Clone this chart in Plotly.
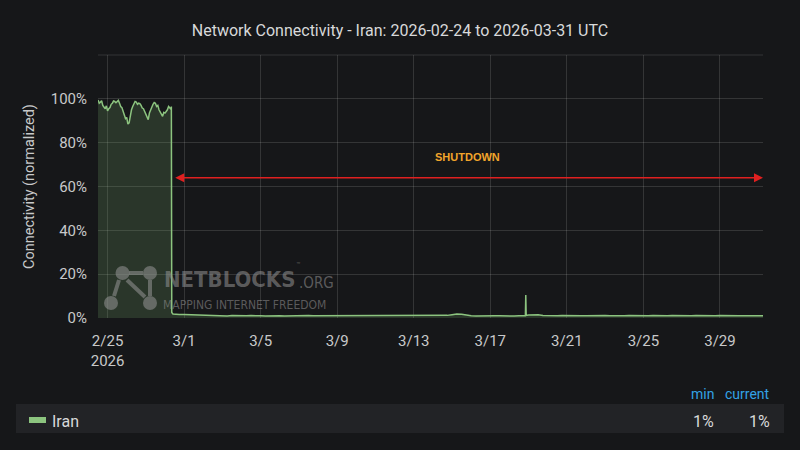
"""
Network connectivity chart for Iran, Feb-Mar 2026 (Grafana dark style)
"""

import pandas as pd
import plotly.graph_objects as go

# --- data -------------------------------------------------------------
# before the shutdown: 90-minute samples from 2026-02-24 12:00
pre_start = "2026-02-24 12:00"
pre_values = [
    99.5, 98.0, 98.5, 99.2, 97.0, 96.0, 95.5, 96.8, 94.5, 95.5, 96.0, 97.5, 98.0, 99.0, 98.8, 98.2,
    99.0, 99.3, 98.0, 96.5, 96.0, 94.0, 93.0, 91.0, 91.5, 88.5, 89.0, 93.0, 95.0, 96.5, 97.5, 98.8,
    98.5, 97.5, 98.0, 97.8, 97.0, 95.8, 95.5, 94.0, 93.0, 91.5, 90.5, 93.5, 95.0, 96.8, 97.5, 98.3,
    98.0, 96.5, 97.0, 95.0, 94.0, 92.5, 92.0, 93.8, 93.5, 94.2, 95.0, 96.5, 96.0, 95.2,
]

# the drop itself
drop_times = ["2026-02-28 08:00", "2026-02-28 08:30", "2026-02-28 10:00"]
drop_values = [96.5, 2.5, 1.8]

# after the shutdown: 6-hourly samples from 2026-02-28 12:00
post_start = "2026-02-28 12:00"
post_values = [
    1.7, 1.6,
    1.6, 1.5, 1.7, 1.6,   # 3/1
    1.4, 1.1, 1.0, 1.2,
    1.0, 0.9, 1.1, 1.0,
    0.9, 1.0, 1.1, 0.9,
    1.0, 0.9, 1.0, 1.1,   # 3/5
    1.0, 0.9, 1.0, 1.0,
    0.9, 1.0, 1.1, 1.0,
    1.0, 0.9, 1.0, 1.1,
    1.0, 1.0, 0.9, 1.0,   # 3/9
    1.1, 1.0, 0.9, 1.0,
    1.0, 1.1, 1.0, 0.9,
    1.0, 1.0, 1.1, 1.0,
    0.9, 1.0, 1.0, 1.1,   # 3/13
    1.0, 1.1, 1.0, 1.2,
    1.5, 1.8, 1.7, 1.2,
    1.0, 0.9, 1.0, 1.0,
    0.9, 1.0, 1.0, 0.9,   # 3/17
    1.0, 0.9, 1.0, 1.0,
    1.4, 1.6, 1.5, 1.1,
    1.0, 0.9, 1.0, 1.1,
    1.0, 0.9, 1.1, 1.0,   # 3/21
    1.0, 1.1, 0.9, 1.0,
    1.1, 1.0, 0.9, 1.0,
    1.0, 1.1, 1.0, 0.9,
    1.0, 1.0, 1.1, 1.0,   # 3/25
    0.9, 1.0, 1.1, 1.0,
    1.0, 0.9, 1.0, 1.1,
    1.0, 1.0, 0.9, 1.0,
    1.1, 1.0, 1.0, 0.9,   # 3/29
    1.0, 1.0, 1.1, 1.0,
    1.0, 1.0,
]

# short-lived spike on 3/18
spike_times = ["2026-03-18 20:00", "2026-03-18 20:30", "2026-03-18 21:00"]
spike_values = [1.0, 10.5, 1.2]

tick_dates = ["2026-02-25", "2026-03-01", "2026-03-05", "2026-03-09", "2026-03-13",
              "2026-03-17", "2026-03-21", "2026-03-25", "2026-03-29"]
tick_text = ["2/25<br>2026", "3/1", "3/5", "3/9", "3/13", "3/17", "3/21", "3/25", "3/29"]
y_ticks = [0, 20, 40, 60, 80, 100]
y_tick_text = ["0%", "20%", "40%", "60%", "80%", "100%"]

series = pd.concat([
    pd.Series(pre_values, index=pd.date_range(pre_start, periods=len(pre_values), freq="90min")),
    pd.Series(drop_values, index=pd.to_datetime(drop_times)),
    pd.Series(post_values, index=pd.date_range(post_start, periods=len(post_values), freq="6h")),
    pd.Series(spike_values, index=pd.to_datetime(spike_times)),
]).sort_index()

# --- style ------------------------------------------------------------
BG = "#161719"
GRID = "rgba(255,255,255,0.13)"
TEXT = "#c8c9ca"
GREEN = "#8cc47f"
MARK = "rgba(150,150,150,0.55)"

L, R, T, B = 98, 37, 55, 132
PW, PH = 800 - L - R, 450 - T - B


def px(x):
    return (x - L) / PW


def py(y):
    return (450 - B - y) / PH


fig = go.Figure(go.Scatter(
    x=series.index,
    y=series.values,
    mode="lines",
    line=dict(color=GREEN, width=1.5),
    fill="tozeroy",
    fillcolor="rgba(126,178,109,0.2)",
    showlegend=False,
    hoverinfo="skip",
))

# shutdown arrow + label
fig.add_annotation(
    x="2026-03-31 06:00", y=64, ax="2026-02-28 11:00", ay=64,
    xref="x", yref="y", axref="x", ayref="y",
    text="", showarrow=True, arrowside="end+start",
    arrowhead=2, arrowsize=1.2, arrowwidth=1.5, arrowcolor="#e02020",
)
fig.add_annotation(
    x="2026-03-15 20:00", y=73.5, xref="x", yref="y", text="<b>SHUTDOWN</b>",
    showarrow=False, font=dict(color="#f2a52b", size=11, family="Liberation Sans"),
)

# watermark logo
shapes = [dict(type="line", xref="paper", yref="paper", x0=0, x1=1, y0=1, y1=1,
               line=dict(color=GRID, width=1))]
for cx, cy in [(122.5, 273), (150, 273), (111, 303), (150, 303)]:
    shapes.append(dict(type="circle", xref="paper", yref="paper",
                       x0=px(cx - 7), x1=px(cx + 7), y0=py(cy + 7), y1=py(cy - 7),
                       fillcolor=MARK, line=dict(width=0)))
for x0, y0, x1, y1 in [(129, 273, 143, 273), (119, 280, 114, 296),
                       (127, 280, 145, 297), (150, 280, 150, 296)]:
    shapes.append(dict(type="line", xref="paper", yref="paper",
                       x0=px(x0), y0=py(y0), x1=px(x1), y1=py(y1),
                       line=dict(color=MARK, width=4)))

# legend row (Grafana style table)
shapes.append(dict(type="rect", xref="paper", yref="paper",
                   x0=px(16), x1=px(784), y0=py(433), y1=py(404),
                   fillcolor="#222326", line=dict(width=0), layer="below"))
shapes.append(dict(type="rect", xref="paper", yref="paper",
                   x0=px(29), x1=px(46), y0=py(423), y1=py(417),
                   fillcolor=GREEN, line=dict(width=0)))
fig.update_layout(shapes=shapes)

cond = "DejaVu Sans Condensed, Liberation Sans Narrow, Roboto"
texts = [
    (162, 279, "<b>NETBLOCKS</b>", 22, cond, MARK, "left"),
    (294, 265, "™", 7, "Roboto", MARK, "left"),
    (297, 283, ".ORG", 15, cond, MARK, "left"),
    (161, 305, "MAPPING INTERNET FREEDOM", 12, cond, MARK, "left"),
    (50, 421, "Iran", 16, "Roboto", "#d8d9da", "left"),
    (716, 394, "min", 14, "Roboto", "#33a2e5", "right"),
    (772, 394, "current", 14, "Roboto", "#33a2e5", "right"),
    (716, 421, "1%", 16, "Roboto", "#d8d9da", "right"),
    (772, 421, "1%", 16, "Roboto", "#d8d9da", "right"),
]
for x, y, t, size, fam, col, anchor in texts:
    fig.add_annotation(x=px(x), y=py(y), xref="paper", yref="paper", text=t,
                       showarrow=False, xanchor=anchor, yanchor="middle",
                       font=dict(size=size, family=fam, color=col))

fig.update_layout(
    width=800,
    height=450,
    paper_bgcolor=BG,
    plot_bgcolor=BG,
    font=dict(family="Roboto", color=TEXT, size=14),
    title=dict(text="Network Connectivity - Iran: 2026-02-24 to 2026-03-31 UTC",
               x=0.5, xanchor="center", y=1 - 30 / 450, yanchor="middle",
               font=dict(size=16, color="#d8d9da")),
    margin=dict(l=L, r=R, t=T, b=B),
    xaxis=dict(
        range=["2026-02-24 12:00", "2026-03-31 06:00"],
        tickvals=tick_dates, ticktext=tick_text,
        showgrid=True, gridcolor=GRID, zeroline=False,
        ticks="", ticklabelstandoff=12, tickfont=dict(size=15, color=TEXT),
    ),
    yaxis=dict(
        range=[0, 120],
        tickvals=y_ticks, ticktext=y_tick_text,
        showgrid=True, gridcolor=GRID, zeroline=False,
        ticks="", ticklabelstandoff=10, tickfont=dict(size=15, color=TEXT),
        title=dict(text="Connectivity (normalized)", standoff=12,
                   font=dict(size=14.5, color=TEXT)),
    ),
)

# page body has a default 8px margin; drop it so the figure sits at 0,0
fig.write_html("out.html", config={"displayModeBar": False},
               post_script="document.body.style.margin='0';"
                           "document.body.style.background='#161719';")
